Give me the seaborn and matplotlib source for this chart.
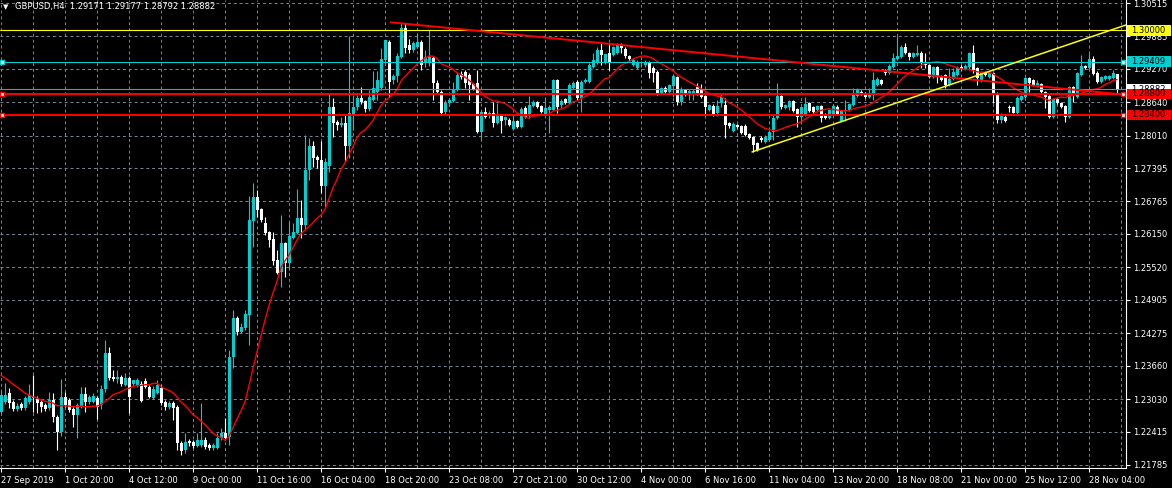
import numpy as np
import pandas as pd
import matplotlib
matplotlib.use('Agg')
import matplotlib.pyplot as plt
import matplotlib.transforms as mtransforms
from matplotlib.patches import Rectangle
import seaborn as sns

# GBPUSD H4, 27 Sep 2019 -> 29 Nov 2019, 280 bars
opens = [
    1.2279, 1.2297, 1.2314, 1.2297, 1.2284, 1.2294, 1.2286, 1.2297, 1.2307, 1.2303,
    1.2297, 1.2292, 1.2286, 1.2301, 1.2269, 1.2241, 1.2307, 1.2301, 1.2284, 1.2273,
    1.2290, 1.2313, 1.2297, 1.2297, 1.2305, 1.2292, 1.2322, 1.2390, 1.2345, 1.2341,
    1.2345, 1.2330, 1.2343, 1.2331, 1.2330, 1.2331, 1.2337, 1.2326, 1.2305, 1.2314,
    1.2324, 1.2297, 1.2288, 1.2296, 1.2288, 1.2220, 1.2207, 1.2224, 1.2222, 1.2214,
    1.2216, 1.2226, 1.2216, 1.2210, 1.2210, 1.2229, 1.2239, 1.2231, 1.2382, 1.2456,
    1.2430, 1.2437, 1.2462, 1.2640, 1.2685, 1.2662, 1.2636, 1.2619, 1.2605, 1.2566,
    1.2543, 1.2598, 1.2560, 1.2607, 1.2617, 1.2645, 1.2632, 1.2736, 1.2781, 1.2760,
    1.2755, 1.2706, 1.2743, 1.2855, 1.2827, 1.2821, 1.2825, 1.2781, 1.2840, 1.2855,
    1.2872, 1.2866, 1.2851, 1.2868, 1.2883, 1.2891, 1.2944, 1.2978, 1.2906, 1.2914,
    1.2949, 1.3004, 1.2972, 1.2963, 1.2968, 1.2978, 1.2938, 1.2940, 1.2948, 1.2900,
    1.2883, 1.2846, 1.2863, 1.2866, 1.2887, 1.2917, 1.2921, 1.2915, 1.2898, 1.2900,
    1.2808, 1.2846, 1.2840, 1.2844, 1.2825, 1.2838, 1.2830, 1.2830, 1.2813, 1.2829,
    1.2817, 1.2853, 1.2840, 1.2857, 1.2864, 1.2857, 1.2840, 1.2849, 1.2849, 1.2906,
    1.2859, 1.2870, 1.2863, 1.2891, 1.2902, 1.2872, 1.2902, 1.2902, 1.2931, 1.2938,
    1.2963, 1.2938, 1.2957, 1.2953, 1.2957, 1.2972, 1.2965, 1.2951, 1.2934, 1.2929,
    1.2938, 1.2934, 1.2940, 1.2929, 1.2921, 1.2881, 1.2891, 1.2883, 1.2895, 1.2912,
    1.2864, 1.2887, 1.2880, 1.2880, 1.2893, 1.2887, 1.2876, 1.2849, 1.2857, 1.2844,
    1.2863, 1.2859, 1.2825, 1.2810, 1.2821, 1.2819, 1.2819, 1.2804, 1.2798, 1.2787,
    1.2796, 1.2789, 1.2793, 1.2808, 1.2834, 1.2876, 1.2853, 1.2855, 1.2866, 1.2851,
    1.2836, 1.2840, 1.2863, 1.2855, 1.2849, 1.2857, 1.2842, 1.2834, 1.2840, 1.2855,
    1.2829, 1.2847, 1.2849, 1.2859, 1.2876, 1.2883, 1.2881, 1.2874, 1.2878, 1.2897,
    1.2906, 1.2925, 1.2919, 1.2931, 1.2946, 1.2949, 1.2968, 1.2957, 1.2949, 1.2953,
    1.2957, 1.2940, 1.2934, 1.2912, 1.2931, 1.2914, 1.2915, 1.2897, 1.2908, 1.2915,
    1.2931, 1.2927, 1.2931, 1.2957, 1.2929, 1.2904, 1.2921, 1.2912, 1.2919, 1.2881,
    1.2830, 1.2836, 1.2855, 1.2855, 1.2844, 1.2868, 1.2874, 1.2910, 1.2906, 1.2895,
    1.2898, 1.2883, 1.2876, 1.2836, 1.2870, 1.2863, 1.2857, 1.2836, 1.2893, 1.2874,
    1.2915, 1.2932, 1.2929, 1.2946, 1.2919, 1.2902, 1.2908, 1.2908, 1.2910, 1.29171,
]
highs = [
    1.2320, 1.2333, 1.2324, 1.2301, 1.2296, 1.2297, 1.2309, 1.2331, 1.2348, 1.2309,
    1.2301, 1.2296, 1.2316, 1.2314, 1.2273, 1.2341, 1.2316, 1.2305, 1.2288, 1.2296,
    1.2326, 1.2326, 1.2311, 1.2314, 1.2309, 1.2330, 1.2415, 1.2401, 1.2358, 1.2358,
    1.2348, 1.2352, 1.2347, 1.2339, 1.2343, 1.2337, 1.2343, 1.2330, 1.2328, 1.2339,
    1.2330, 1.2301, 1.2299, 1.2299, 1.2292, 1.2224, 1.2239, 1.2227, 1.2226, 1.2239,
    1.2296, 1.2231, 1.2220, 1.2220, 1.2239, 1.2248, 1.2267, 1.2396, 1.2471, 1.2460,
    1.2447, 1.2471, 1.2687, 1.2711, 1.2698, 1.2664, 1.2647, 1.2621, 1.2619, 1.2585,
    1.2651, 1.2600, 1.2638, 1.2636, 1.2700, 1.2679, 1.2802, 1.2796, 1.2791, 1.2764,
    1.2791, 1.2759, 1.2880, 1.2872, 1.2830, 1.2836, 1.2840, 1.2989, 1.2878, 1.2878,
    1.2893, 1.2868, 1.2887, 1.2923, 1.2923, 1.2966, 1.2982, 1.2982, 1.2917, 1.2957,
    1.3014, 1.3014, 1.2983, 1.2980, 1.2995, 1.2982, 1.2963, 1.3000, 1.2951, 1.2906,
    1.2887, 1.2868, 1.2872, 1.2902, 1.2921, 1.2923, 1.2925, 1.2919, 1.2900, 1.2925,
    1.2849, 1.2855, 1.2847, 1.2864, 1.2863, 1.2840, 1.2838, 1.2834, 1.2838, 1.2830,
    1.2855, 1.2857, 1.2876, 1.2868, 1.2866, 1.2859, 1.2874, 1.2859, 1.2908, 1.2908,
    1.2870, 1.2872, 1.2900, 1.2904, 1.2906, 1.2906, 1.2910, 1.2938, 1.2957, 1.2968,
    1.2976, 1.2955, 1.2976, 1.2970, 1.2976, 1.2976, 1.2968, 1.2953, 1.2948, 1.2944,
    1.2942, 1.2944, 1.2942, 1.2932, 1.2925, 1.2893, 1.2895, 1.2898, 1.2917, 1.2914,
    1.2893, 1.2889, 1.2889, 1.2889, 1.2900, 1.2898, 1.2878, 1.2861, 1.2861, 1.2868,
    1.2880, 1.2872, 1.2827, 1.2827, 1.2823, 1.2821, 1.2823, 1.2806, 1.2800, 1.2789,
    1.2800, 1.2802, 1.2812, 1.2840, 1.2900, 1.2878, 1.2861, 1.2868, 1.2868, 1.2853,
    1.2857, 1.2874, 1.2864, 1.2857, 1.2859, 1.2859, 1.2844, 1.2851, 1.2861, 1.2859,
    1.2849, 1.2868, 1.2863, 1.2891, 1.2891, 1.2887, 1.2883, 1.2891, 1.2921, 1.2912,
    1.2908, 1.2927, 1.2936, 1.2957, 1.2989, 1.2972, 1.2976, 1.2959, 1.2959, 1.2972,
    1.2961, 1.2957, 1.2936, 1.2932, 1.2932, 1.2915, 1.2917, 1.2929, 1.2929, 1.2932,
    1.2934, 1.2936, 1.2959, 1.2972, 1.2931, 1.2923, 1.2923, 1.2925, 1.2921, 1.2883,
    1.2844, 1.2840, 1.2859, 1.2857, 1.2876, 1.2878, 1.2912, 1.2912, 1.2908, 1.2906,
    1.2900, 1.2885, 1.2878, 1.2872, 1.2872, 1.2864, 1.2859, 1.2895, 1.2895, 1.2921,
    1.2953, 1.2934, 1.2957, 1.2951, 1.2923, 1.2914, 1.2915, 1.2915, 1.2925, 1.29177,
]
lows = [
    1.2275, 1.2294, 1.2286, 1.2280, 1.2280, 1.2282, 1.2282, 1.2294, 1.2279, 1.2277,
    1.2279, 1.2280, 1.2282, 1.2260, 1.2207, 1.2233, 1.2288, 1.2279, 1.2250, 1.2229,
    1.2286, 1.2279, 1.2294, 1.2296, 1.2265, 1.2284, 1.2316, 1.2339, 1.2337, 1.2333,
    1.2328, 1.2328, 1.2277, 1.2328, 1.2326, 1.2297, 1.2324, 1.2305, 1.2303, 1.2313,
    1.2292, 1.2282, 1.2284, 1.2263, 1.2207, 1.2197, 1.2201, 1.2214, 1.2210, 1.2212,
    1.2212, 1.2209, 1.2207, 1.2207, 1.2209, 1.2226, 1.2226, 1.2216, 1.2362, 1.2424,
    1.2428, 1.2433, 1.2405, 1.2590, 1.2647, 1.2638, 1.2613, 1.2590, 1.2556, 1.2539,
    1.2515, 1.2534, 1.2547, 1.2605, 1.2615, 1.2607, 1.2622, 1.2717, 1.2742, 1.2740,
    1.2692, 1.2666, 1.2732, 1.2798, 1.2812, 1.2817, 1.2751, 1.2759, 1.2812, 1.2849,
    1.2861, 1.2846, 1.2847, 1.2866, 1.2868, 1.2887, 1.2938, 1.2874, 1.2898, 1.2902,
    1.2948, 1.2957, 1.2957, 1.2959, 1.2966, 1.2925, 1.2931, 1.2932, 1.2868, 1.2881,
    1.2840, 1.2840, 1.2859, 1.2864, 1.2885, 1.2908, 1.2891, 1.2868, 1.2887, 1.2806,
    1.2793, 1.2834, 1.2834, 1.2817, 1.2823, 1.2806, 1.2821, 1.2819, 1.2812, 1.2815,
    1.2815, 1.2834, 1.2834, 1.2855, 1.2853, 1.2844, 1.2838, 1.2806, 1.2847, 1.2844,
    1.2853, 1.2861, 1.2861, 1.2889, 1.2868, 1.2846, 1.2900, 1.2900, 1.2929, 1.2936,
    1.2934, 1.2936, 1.2925, 1.2951, 1.2955, 1.2957, 1.2948, 1.2940, 1.2932, 1.2927,
    1.2931, 1.2931, 1.2910, 1.2902, 1.2878, 1.2880, 1.2881, 1.2881, 1.2874, 1.2859,
    1.2859, 1.2876, 1.2868, 1.2868, 1.2878, 1.2872, 1.2840, 1.2847, 1.2838, 1.2838,
    1.2855, 1.2796, 1.2815, 1.2808, 1.2815, 1.2804, 1.2800, 1.2794, 1.2770, 1.2772,
    1.2789, 1.2787, 1.2791, 1.2793, 1.2832, 1.2851, 1.2851, 1.2849, 1.2846, 1.2817,
    1.2825, 1.2838, 1.2846, 1.2844, 1.2846, 1.2827, 1.2832, 1.2832, 1.2838, 1.2840,
    1.2827, 1.2829, 1.2847, 1.2857, 1.2874, 1.2878, 1.2872, 1.2872, 1.2868, 1.2895,
    1.2897, 1.2915, 1.2917, 1.2929, 1.2944, 1.2948, 1.2955, 1.2944, 1.2948, 1.2951,
    1.2929, 1.2929, 1.2910, 1.2910, 1.2900, 1.2904, 1.2891, 1.2895, 1.2906, 1.2914,
    1.2925, 1.2925, 1.2925, 1.2919, 1.2897, 1.2902, 1.2914, 1.2910, 1.2863, 1.2825,
    1.2825, 1.2827, 1.2846, 1.2844, 1.2842, 1.2866, 1.2872, 1.2883, 1.2895, 1.2893,
    1.2881, 1.2853, 1.2834, 1.2834, 1.2861, 1.2853, 1.2827, 1.2834, 1.2864, 1.2872,
    1.2914, 1.2927, 1.2927, 1.2915, 1.2900, 1.2900, 1.2906, 1.2906, 1.2908, 1.28792,
]
closes = [
    1.2311, 1.2311, 1.2296, 1.2284, 1.2290, 1.2286, 1.2305, 1.2311, 1.2305, 1.2296,
    1.2288, 1.2284, 1.2301, 1.2269, 1.2241, 1.2307, 1.2292, 1.2282, 1.2273, 1.2292,
    1.2313, 1.2297, 1.2307, 1.2309, 1.2288, 1.2322, 1.2390, 1.2343, 1.2341, 1.2345,
    1.2331, 1.2343, 1.2307, 1.2339, 1.2339, 1.2299, 1.2326, 1.2307, 1.2322, 1.2330,
    1.2296, 1.2288, 1.2296, 1.2286, 1.2220, 1.2205, 1.2222, 1.2220, 1.2214, 1.2226,
    1.2226, 1.2212, 1.2210, 1.2216, 1.2229, 1.2239, 1.2229, 1.2382, 1.2456, 1.2430,
    1.2439, 1.2464, 1.2641, 1.2685, 1.2660, 1.2641, 1.2617, 1.2604, 1.2564, 1.2541,
    1.2598, 1.2560, 1.2611, 1.2619, 1.2645, 1.2632, 1.2736, 1.2781, 1.2759, 1.2755,
    1.2706, 1.2751, 1.2855, 1.2825, 1.2821, 1.2825, 1.2781, 1.2844, 1.2855, 1.2872,
    1.2864, 1.2851, 1.2874, 1.2891, 1.2906, 1.2946, 1.2982, 1.2902, 1.2914, 1.2951,
    1.3004, 1.2966, 1.2963, 1.2976, 1.2978, 1.2934, 1.2949, 1.2949, 1.2900, 1.2883,
    1.2844, 1.2863, 1.2868, 1.2887, 1.2915, 1.2912, 1.2900, 1.2897, 1.2889, 1.2808,
    1.2846, 1.2836, 1.2844, 1.2825, 1.2838, 1.2829, 1.2836, 1.2821, 1.2829, 1.2817,
    1.2851, 1.2836, 1.2859, 1.2864, 1.2855, 1.2846, 1.2853, 1.2855, 1.2906, 1.2855,
    1.2866, 1.2863, 1.2897, 1.2900, 1.2872, 1.2902, 1.2906, 1.2934, 1.2944, 1.2963,
    1.2953, 1.2955, 1.2938, 1.2968, 1.2972, 1.2966, 1.2951, 1.2946, 1.2944, 1.2940,
    1.2940, 1.2940, 1.2919, 1.2919, 1.2881, 1.2891, 1.2883, 1.2897, 1.2914, 1.2864,
    1.2887, 1.2878, 1.2885, 1.2885, 1.2880, 1.2874, 1.2855, 1.2859, 1.2840, 1.2857,
    1.2874, 1.2821, 1.2819, 1.2823, 1.2817, 1.2806, 1.2802, 1.2796, 1.2783, 1.2774,
    1.2793, 1.2798, 1.2808, 1.2834, 1.2876, 1.2855, 1.2859, 1.2866, 1.2847, 1.2836,
    1.2855, 1.2861, 1.2847, 1.2846, 1.2857, 1.2834, 1.2834, 1.2849, 1.2857, 1.2842,
    1.2847, 1.2849, 1.2861, 1.2878, 1.2887, 1.2880, 1.2874, 1.2881, 1.2906, 1.2908,
    1.2898, 1.2919, 1.2932, 1.2948, 1.2951, 1.2968, 1.2957, 1.2949, 1.2957, 1.2957,
    1.2940, 1.2934, 1.2912, 1.2931, 1.2912, 1.2906, 1.2897, 1.2908, 1.2921, 1.2929,
    1.2927, 1.2932, 1.2957, 1.2925, 1.2910, 1.2921, 1.2915, 1.2919, 1.2881, 1.2830,
    1.2838, 1.2829, 1.2853, 1.2844, 1.2872, 1.2876, 1.2910, 1.2900, 1.2897, 1.2900,
    1.2883, 1.2874, 1.2836, 1.2870, 1.2863, 1.2855, 1.2836, 1.2893, 1.2878, 1.2919,
    1.2932, 1.2929, 1.2946, 1.2917, 1.2902, 1.2912, 1.2914, 1.2914, 1.2919, 1.28882,
]

# the 14-period moving average for the first 13 bars (its history is off the chart)
ma_head = [1.2348, 1.2343, 1.2337, 1.2331, 1.2326, 1.2320, 1.2314,
           1.2311, 1.2307, 1.2305, 1.2301, 1.2299, 1.2297]

time_labels = ['27 Sep 2019', '1 Oct 20:00', '4 Oct 12:00', '9 Oct 00:00', '11 Oct 16:00',
               '16 Oct 04:00', '18 Oct 20:00', '23 Oct 08:00', '27 Oct 21:00', '30 Oct 12:00',
               '4 Nov 00:00', '6 Nov 16:00', '11 Nov 04:00', '13 Nov 20:00', '18 Nov 08:00',
               '21 Nov 00:00', '25 Nov 12:00', '28 Nov 04:00']
price_ticks = [1.30515, 1.29885, 1.29270, 1.28640, 1.28010, 1.27395, 1.26765, 1.26150,
               1.25520, 1.24905, 1.24275, 1.23660, 1.23030, 1.22415, 1.21785]

# horizontal levels (yellow, cyan, bid, two red)
level_prices = [1.30000, 1.29409, 1.28882, 1.28800, 1.28400]
# trend lines: bar index / price anchors
red_trend_bars = [97.5, 281.25]
red_trend_prices = [1.3015, 1.2878]
yellow_trend_bars = [187.75, 281.25]
yellow_trend_prices = [1.2770, 1.3010]
header = 'GBPUSD,H4  1.29171 1.29177 1.28792 1.28882'

sns.set_theme(style='dark', rc={'axes.facecolor': 'black', 'figure.facecolor': 'black'})
plt.rcParams['font.family'] = ['DejaVu Sans']

df = pd.DataFrame({'open': opens, 'high': highs, 'low': lows, 'close': closes})
df['bar'] = np.arange(len(df))
ma = df['close'].rolling(14).mean()
ma.iloc[:len(ma_head)] = ma_head
df['ma'] = ma

fig = plt.figure(figsize=(11.72, 4.88), dpi=100)
ax = fig.add_axes([0, 20 / 488, 1126 / 1172, 468 / 488])
ax.set_facecolor('black')

# dashed grid
grid_kw = dict(color='#778899', lw=0.7, ls=(0, (3, 3)), zorder=0.5)
for p in price_ticks:
    ax.axhline(p, **grid_kw)
for b in range(0, len(df) + 8, 8):
    ax.axvline(b, **grid_kw)

# candles
bull, bear = '#00CED1', '#FFFFFF'
up = df['close'] >= df['open']
cols = np.where(up, bull, bear)
wick_lo = df[['low', 'open', 'close']].min(axis=1)
wick_hi = df[['high', 'open', 'close']].max(axis=1)
ax.vlines(df['bar'], wick_lo, wick_hi, colors=cols, lw=0.8, zorder=2)
body_lo = df[['open', 'close']].min(axis=1)
body_h = (df['close'] - df['open']).abs().clip(lower=0.00019)
ax.bar(df['bar'], body_h, bottom=body_lo, width=0.75, color=cols, lw=0, zorder=2.5)

# moving average
sns.lineplot(data=df, x='bar', y='ma', color='#FF0000', lw=1.0, ax=ax, zorder=3, legend=False)

# chart objects
level_cols = ['#FFFF00', '#00CED1', '#778899', '#FF0000', '#FF0000']
level_lw = [0.8, 0.8, 0.8, 1.4, 1.4]
for p, c, w in zip(level_prices, level_cols, level_lw):
    ax.axhline(p, color=c, lw=w, zorder=4)
ax.plot(red_trend_bars, red_trend_prices, color='#FF0000', lw=1.4, zorder=4)
ax.plot(yellow_trend_bars, yellow_trend_prices, color='#FFFF00', lw=1.1, zorder=4)
for p, c in zip(level_prices[1:], level_cols[1:]):
    if c == '#778899':
        continue
    ax.plot([0.3, 280.4], [p, p], ls='none', marker='s', ms=3.5, mfc='white',
            mec=c, mew=1, zorder=5, clip_on=False)

ax.set_xlim(-0.25, 281.25)
ax.set_ylim(1.21727, 1.30572)
ax.set_xlabel('')
ax.set_ylabel('')

ax.set_xticks(np.arange(len(time_labels)) * 16, labels=time_labels)
for t in ax.get_xticklabels():
    t.set_ha('left')
ax.yaxis.tick_right()
ax.set_yticks(price_ticks, labels=[f'{p:.5f}' for p in price_ticks])
ax.tick_params(axis='y', right=True, left=False, colors='white', length=3, width=0.8,
               pad=2, labelsize=6)
ax.tick_params(axis='x', bottom=True, colors='white', length=3, width=0.8,
               pad=2.5, labelsize=6)
for s in ['left', 'top']:
    ax.spines[s].set_visible(False)
for s in ['right', 'bottom']:
    ax.spines[s].set_color('white')
    ax.spines[s].set_linewidth(0.8)

# price labels on the right scale
lab_tr = mtransforms.blended_transform_factory(ax.transAxes, ax.transData)
box_fc = ['#FFFF00', '#00CED1', '#FFFFFF', '#FF0000', '#FF0000']
box_h = 0.00198
for k, (p, fc) in enumerate(zip(level_prices, box_fc)):
    ax.add_patch(Rectangle((1 + 1 / 1126, p - box_h / 2), 44 / 1126, box_h, transform=lab_tr,
                           facecolor=fc, edgecolor='none', clip_on=False, zorder=6 + 2 * k))
    ax.text(1 + 5 / 1126, p, f'{p:.5f}', transform=lab_tr, color='black', fontsize=6,
            va='center', ha='left', clip_on=False, zorder=7 + 2 * k)

fig.text(3 / 1172, 1 - 7 / 488, '\u25bc', color='white', fontsize=5, va='center', ha='left')
fig.text(15 / 1172, 1 - 7 / 488, header, color='white', fontsize=6, va='center', ha='left')

fig.savefig('out.png', dpi=100, facecolor='black')
